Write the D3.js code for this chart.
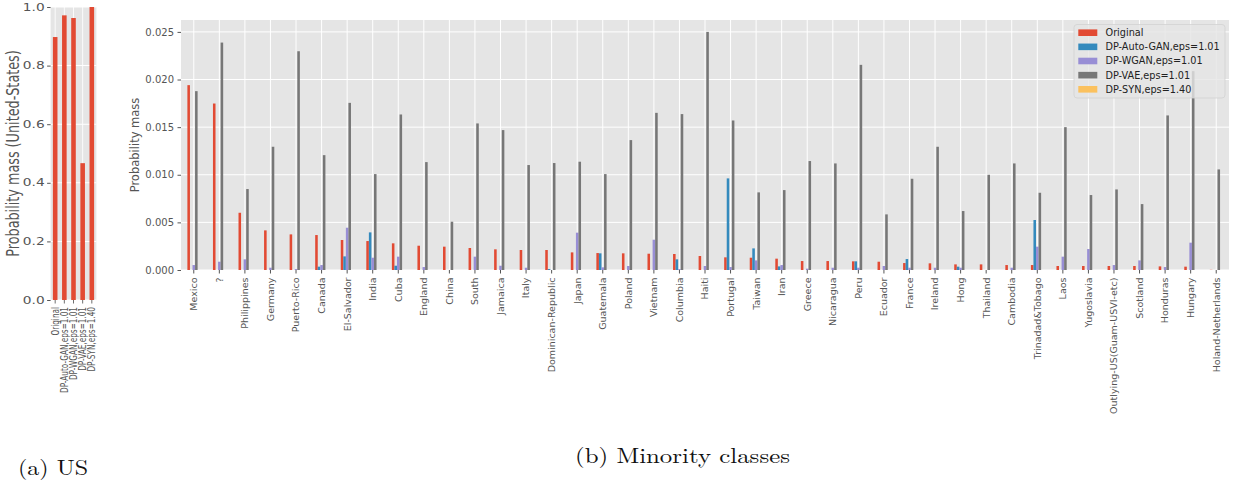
<!DOCTYPE html>
<html>
<head>
<meta charset="utf-8">
<script src="https://cdn.jsdelivr.net/npm/d3@7"></script>
<style>
  html, body { margin: 0; padding: 0; background: #fff; }
  svg { display: block; }
</style>
</head>
<body>
<svg id="chart" width="1233" height="489" font-family="DejaVu Sans, sans-serif"></svg>
<script>
// ---------- data ----------
const methods = ["Original", "DP-Auto-GAN,eps=1.01", "DP-WGAN,eps=1.01", "DP-VAE,eps=1.01", "DP-SYN,eps=1.40"];
const usValues = [0.8975, 0.9715, 0.9624, 0.467, 1.0];
const usTicks = [0, 0.2, 0.4, 0.6, 0.8, 1.0];

const categories = ["Mexico", "?", "Philippines", "Germany", "Puerto-Rico", "Canada", "El-Salvador", "India", "Cuba", "England",
  "China", "South", "Jamaica", "Italy", "Dominican-Republic", "Japan", "Guatemala", "Poland", "Vietnam", "Columbia",
  "Haiti", "Portugal", "Taiwan", "Iran", "Greece", "Nicaragua", "Peru", "Ecuador", "France", "Ireland",
  "Hong", "Thailand", "Cambodia", "Trinadad&Tobago", "Laos", "Yugoslavia", "Outlying-US(Guam-USVI-etc)", "Scotland", "Honduras", "Hungary",
  "Holand-Netherlands"];
const original = [0.01941, 0.01748, 0.00601, 0.00416, 0.00374, 0.00367, 0.00315, 0.00304, 0.0028, 0.00255,
  0.00245, 0.00231, 0.00217, 0.0021, 0.0021, 0.00185, 0.00178, 0.00175, 0.00171, 0.00168,
  0.00147, 0.00133, 0.00129, 0.00119, 0.00094, 0.00094, 0.00091, 0.00087, 0.00073, 0.0007,
  0.00059, 0.00059, 0.00052, 0.00052, 0.00042, 0.00042, 0.00042, 0.00042, 0.00038, 0.00035,
  0.00002];
const dpAutoGan = [0, 0, 0, 0, 0, 0.00035, 0.00143, 0.00395, 0.00045, 0,
  0, 0, 0, 0, 0.0001, 0, 0.00175, 0, 0, 0.00112,
  0, 0.00962, 0.00227, 0.00038, 0, 0, 0.00091, 0, 0.00115, 0,
  0.00035, 0, 0, 0.00525, 0, 0, 0, 0, 0, 0,
  0];
const dpWgan = [0.00052, 0.00087, 0.00112, 0.00024, 0.0001, 0.00052, 0.00444, 0.00129, 0.0014, 0.00031,
  0, 0.0014, 0.00045, 0.00024, 0, 0.00392, 0.00028, 0.00042, 0.00318, 0.0001,
  0.00042, 0.00031, 0.00101, 0.00052, 0.00014, 0.00024, 0.00024, 0.00042, 0.00024, 0.00024,
  0.00024, 0, 0.00024, 0.00245, 0.0014, 0.0022, 0.00052, 0.00101, 0.00031, 0.00287,
  0];
const dpVae = [0.01878, 0.02388, 0.0085, 0.01294, 0.02297, 0.01206, 0.01755, 0.01007, 0.01633, 0.01133,
  0.00507, 0.01539, 0.01469, 0.01102, 0.01123, 0.01137, 0.01007, 0.01364, 0.0165, 0.01637,
  0.025, 0.0157, 0.00815, 0.00839, 0.01144, 0.01119, 0.02154, 0.00584, 0.00958, 0.01294,
  0.00619, 0.01, 0.01119, 0.00811, 0.015, 0.00787, 0.00846, 0.00692, 0.01623, 0.02088,
  0.01056];
const dpSyn = [0, 0, 0, 0, 0, 0, 0, 0, 0, 0,
  0, 0, 0, 0, 0, 0, 0, 0, 0, 0,
  0, 0, 0, 0, 0, 0, 0, 0, 0, 0,
  0, 0, 0, 0, 0, 0, 0, 0, 0, 0,
  0];
const mainTicks = [0, 0.005, 0.010, 0.015, 0.020, 0.025];

const seriesList = [original, dpAutoGan, dpWgan, dpVae, dpSyn];
const colors = ["#E24A33", "#348ABD", "#988ED5", "#777777", "#FBC15E"];

const svg = d3.select("#chart");
const BG = "#E5E5E5", TXT = "#555555";
const SANS = "DejaVu Sans, sans-serif";
const SERIF = "'Latin Modern Roman', 'DejaVu Serif', 'Liberation Serif', serif";

// ---------- (a) US panel (horizontally stretched like the reference) ----------
const sx = 1.43;
const gA = svg.append("g").attr("transform", `scale(${sx},1)`);
const aLeft = 50.6 / sx, aRight = 96.4 / sx, aTop = 7, aBottom = 300;
const xA = d3.scaleBand().domain(methods).range([aLeft, aRight]).paddingInner(0).paddingOuter(0);
const yA = d3.scaleLinear().domain([0, 1.0]).range([aBottom, aTop]);

gA.append("rect").attr("x", aLeft).attr("y", aTop).attr("width", aRight - aLeft).attr("height", aBottom - aTop).attr("fill", BG);
gA.append("g").selectAll("line").data(usTicks).join("line")
  .attr("x1", aLeft).attr("x2", aRight).attr("y1", d => yA(d)).attr("y2", d => yA(d))
  .attr("stroke", "#fff").attr("stroke-width", 1);
gA.append("g").selectAll("line").data(methods).join("line")
  .attr("x1", d => xA(d) + xA.bandwidth() / 2).attr("x2", d => xA(d) + xA.bandwidth() / 2)
  .attr("y1", aTop).attr("y2", aBottom).attr("stroke", "#fff").attr("stroke-width", 1 / sx);
gA.append("g").selectAll("rect").data(methods).join("rect")
  .attr("x", d => xA(d) + xA.bandwidth() * 0.25)
  .attr("width", xA.bandwidth() * 0.5)
  .attr("y", (d, i) => yA(usValues[i]))
  .attr("height", (d, i) => aBottom - yA(usValues[i]))
  .attr("fill", colors[0]);

const axA = gA.append("g").attr("transform", `translate(${aLeft},0)`)
  .call(d3.axisLeft(yA).tickValues(usTicks).tickFormat(d3.format(".1f")).tickSize(3.5 / sx).tickPadding(2.5 / sx));
axA.select(".domain").remove();
axA.selectAll("line").attr("stroke", TXT).attr("stroke-width", 1);
axA.selectAll("text").attr("fill", TXT).attr("font-size", 9.6).style("font-family", SANS);

const axAx = gA.append("g").attr("transform", `translate(0,${aBottom})`)
  .call(d3.axisBottom(xA).tickSize(3.5).tickPadding(0));
axAx.select(".domain").remove();
axAx.selectAll("line").attr("stroke", TXT).attr("stroke-width", 1 / sx);
axAx.selectAll("text")
  .attr("fill", TXT).attr("font-size", 7.3).style("font-family", SANS)
  .attr("text-anchor", "end").attr("dy", null)
  .attr("transform", "translate(0,7) rotate(-90) translate(0,2.5)")
  .attr("x", 0).attr("y", 0);

gA.append("text")
  .attr("transform", `translate(${19 / sx},${(aTop + aBottom) / 2}) rotate(-90)`)
  .attr("text-anchor", "middle").attr("fill", TXT).attr("font-size", 12.8).style("font-family", SANS)
  .text("Probability mass (United-States)");

// ---------- (b) Minority classes panel ----------
const bLeft = 181, bRight = 1229, bTop = 20, bBottom = 270;
const xB = d3.scaleBand().domain(categories).range([bLeft, bRight]).paddingInner(0).paddingOuter(0);
const yB = d3.scaleLinear().domain([0, 0.02625]).range([bBottom, bTop]);
const gB = svg.append("g");

gB.append("rect").attr("x", bLeft).attr("y", bTop).attr("width", bRight - bLeft).attr("height", bBottom - bTop).attr("fill", BG);
gB.append("g").selectAll("line").data(mainTicks).join("line")
  .attr("x1", bLeft).attr("x2", bRight).attr("y1", d => yB(d)).attr("y2", d => yB(d))
  .attr("stroke", "#fff").attr("stroke-width", 1);
gB.append("g").selectAll("line").data(categories).join("line")
  .attr("x1", d => xB(d) + xB.bandwidth() / 2).attr("x2", d => xB(d) + xB.bandwidth() / 2)
  .attr("y1", bTop).attr("y2", bBottom).attr("stroke", "#fff").attr("stroke-width", 1);

const bw = xB.bandwidth() * 0.1;
seriesList.forEach((vals, si) => {
  gB.append("g").selectAll("rect").data(categories).join("rect")
    .attr("x", d => xB(d) + xB.bandwidth() / 2 - 0.25 * xB.bandwidth() + si * bw)
    .attr("width", bw)
    .attr("y", (d, i) => yB(vals[i]))
    .attr("height", (d, i) => bBottom - yB(vals[i]))
    .attr("fill", colors[si]);
});

const axB = gB.append("g").attr("transform", `translate(${bLeft},0)`)
  .call(d3.axisLeft(yB).tickValues(mainTicks).tickFormat(d3.format(".3f")).tickSize(3.5).tickPadding(3.5));
axB.select(".domain").remove();
axB.selectAll("line").attr("stroke", TXT);
axB.selectAll("text").attr("fill", TXT).attr("font-size", 10).style("font-family", SANS);

const axBx = gB.append("g").attr("transform", `translate(0,${bBottom})`)
  .call(d3.axisBottom(xB).tickSize(3.5).tickPadding(0));
axBx.select(".domain").remove();
axBx.selectAll("line").attr("stroke", TXT);
axBx.selectAll("text")
  .attr("fill", TXT).attr("font-size", 9.5).style("font-family", SANS)
  .attr("text-anchor", "end").attr("dy", null)
  .attr("transform", "translate(0,7.5) rotate(-90) translate(0,3.4)")
  .attr("x", 0).attr("y", 0);

gB.append("text")
  .attr("transform", `translate(139,${(bTop + bBottom) / 2}) rotate(-90)`)
  .attr("text-anchor", "middle").attr("fill", TXT).attr("font-size", 11.5).style("font-family", SANS)
  .text("Probability mass");

// legend
const lg = gB.append("g");
lg.append("rect").attr("x", 1074).attr("y", 24.5).attr("width", 151).attr("height", 73.5)
  .attr("rx", 3).attr("fill", "rgba(229,229,229,0.8)").attr("stroke", "#d2d2d2").attr("stroke-width", 0.8);
const legY = d3.scalePoint().domain(methods).range([32.7, 89.3]);
lg.selectAll("rect.sw").data(methods).join("rect").attr("class", "sw")
  .attr("x", 1078.3).attr("width", 19).attr("y", d => legY(d) - 3.3).attr("height", 6.6)
  .attr("fill", (d, i) => colors[i]);
lg.selectAll("text").data(methods).join("text")
  .attr("x", 1105.5).attr("y", d => legY(d)).attr("dy", "0.35em")
  .attr("font-size", 9.7).attr("fill", "#222").style("font-family", SANS).text(d => d);

// captions
svg.append("text").attr("x", 18).attr("y", 475)
  .style("font-family", SERIF).attr("font-size", 21)
  .attr("textLength", 70).attr("lengthAdjust", "spacingAndGlyphs").attr("fill", "#111")
  .text("(a) US");
svg.append("text").attr("x", 575).attr("y", 463)
  .style("font-family", SERIF).attr("font-size", 21)
  .attr("textLength", 215).attr("lengthAdjust", "spacingAndGlyphs").attr("fill", "#111")
  .text("(b) Minority classes");
</script>
</body>
</html>
